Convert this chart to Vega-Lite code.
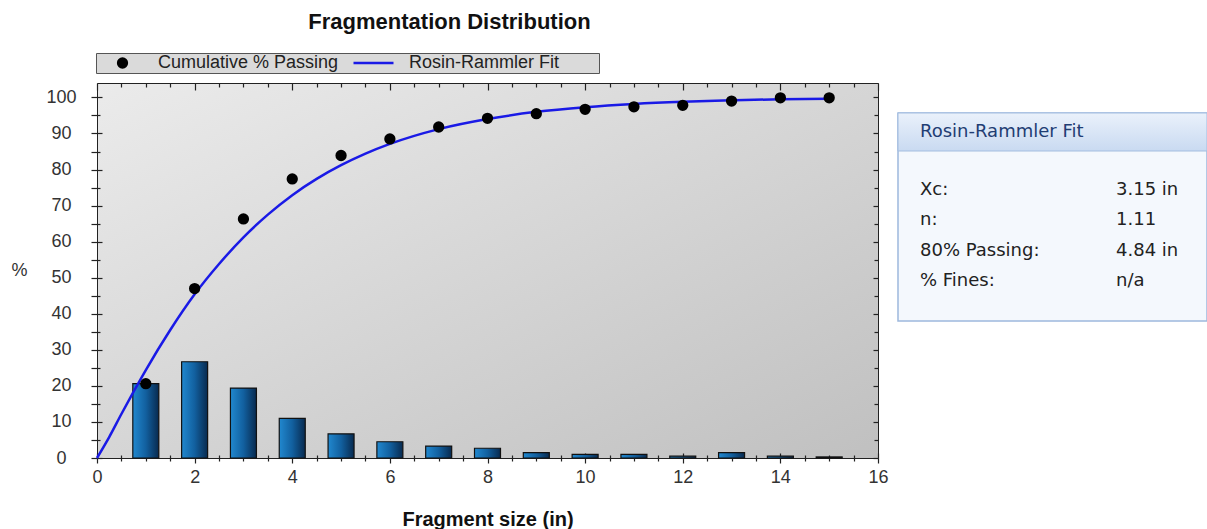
{
  "$schema": "https://vega.github.io/schema/vega-lite/v6.json",
  "padding": {"left": 10, "top": 10, "right": 0, "bottom": 0},
  "background": "white",
  "spacing": 7,
  "config": {"font": "Liberation Sans", "view": {"stroke": null}},
  "datasets": {
    "bars": [
      {"size": 1, "pct": 20.6}, {"size": 2, "pct": 26.7}, {"size": 3, "pct": 19.4}, {"size": 4, "pct": 11.0},
      {"size": 5, "pct": 6.7}, {"size": 6, "pct": 4.5}, {"size": 7, "pct": 3.3}, {"size": 8, "pct": 2.7},
      {"size": 9, "pct": 1.5}, {"size": 10, "pct": 1.0}, {"size": 11, "pct": 1.0}, {"size": 12, "pct": 0.5},
      {"size": 13, "pct": 1.5}, {"size": 14, "pct": 0.5}, {"size": 15, "pct": 0.3}
    ],
    "cumulative": [
      {"size": 1, "pct": 20.6}, {"size": 2, "pct": 47.0}, {"size": 3, "pct": 66.3}, {"size": 4, "pct": 77.4},
      {"size": 5, "pct": 83.9}, {"size": 6, "pct": 88.5}, {"size": 7, "pct": 91.8}, {"size": 8, "pct": 94.2},
      {"size": 9, "pct": 95.5}, {"size": 10, "pct": 96.7}, {"size": 11, "pct": 97.4}, {"size": 12, "pct": 97.8},
      {"size": 13, "pct": 99.0}, {"size": 14, "pct": 99.9}, {"size": 15, "pct": 99.9}
    ],
    "fit": [
      {"size": 0, "pct": 0}, {"size": 0.25, "pct": 5.8}, {"size": 0.5, "pct": 12.2}, {"size": 0.75, "pct": 18.4},
      {"size": 1, "pct": 24.4}, {"size": 1.5, "pct": 35.5}, {"size": 2, "pct": 45.4}, {"size": 2.5, "pct": 53.8},
      {"size": 3, "pct": 61.2}, {"size": 3.5, "pct": 67.5}, {"size": 4, "pct": 72.9}, {"size": 4.5, "pct": 77.4},
      {"size": 5, "pct": 81.2}, {"size": 5.5, "pct": 84.4}, {"size": 6, "pct": 87.1}, {"size": 7, "pct": 91.2},
      {"size": 8, "pct": 94.0}, {"size": 9, "pct": 96.0}, {"size": 10, "pct": 97.3}, {"size": 11, "pct": 98.2},
      {"size": 12, "pct": 98.8}, {"size": 13, "pct": 99.2}, {"size": 14, "pct": 99.5}, {"size": 15, "pct": 99.65}
    ],
    "panelHeader": [{"part": "header", "col": "name", "text": "Rosin-Rammler Fit"}],
    "panelRows": [
      {"row": "Xc:", "col": "name", "text": "Xc:"}, {"row": "Xc:", "col": "value", "text": "3.15 in"},
      {"row": "n:", "col": "name", "text": "n:"}, {"row": "n:", "col": "value", "text": "1.11"},
      {"row": "80% Passing:", "col": "name", "text": "80% Passing:"}, {"row": "80% Passing:", "col": "value", "text": "4.84 in"},
      {"row": "% Fines:", "col": "name", "text": "% Fines:"}, {"row": "% Fines:", "col": "value", "text": "n/a"}
    ],
    "empty": []
  },
  "hconcat": [
    {
      "width": 781,
      "height": 375,
      "title": {"text": "Fragmentation Distribution", "fontSize": 22, "fontWeight": "bold", "font": "Liberation Sans", "color": "#111111", "anchor": "middle", "frame": "bounds", "offset": 48},
      "view": {
        "fill": {"gradient": "linear", "x1": 0, "y1": 0, "x2": 1, "y2": 1, "stops": [{"offset": 0, "color": "#ebebeb"}, {"offset": 1, "color": "#c0c0c0"}]},
        "stroke": "#222222",
        "strokeWidth": 1
      },
      "resolve": {"axis": {"x": "independent", "y": "independent"}},
      "layer": [
        {
          "data": {"name": "bars"},
          "mark": {
            "type": "bar",
            "size": 26,
            "color": {"gradient": "linear", "x1": 0, "y1": 0, "x2": 1, "y2": 0, "stops": [{"offset": 0, "color": "#2188cf"}, {"offset": 0.5, "color": "#12609f"}, {"offset": 1, "color": "#082a4f"}]},
            "stroke": "#111111",
            "strokeWidth": 1.2
          },
          "encoding": {
            "x": {
              "field": "size", "type": "quantitative",
              "scale": {"domain": [0, 16], "nice": false, "zero": false, "padding": 0},
              "axis": {
                "orient": "bottom",
                "values": [0,0.5,1,1.5,2,2.5,3,3.5,4,4.5,5,5.5,6,6.5,7,7.5,8,8.5,9,9.5,10,10.5,11,11.5,12,12.5,13,13.5,14,14.5,15,15.5,16],
                "domain": false, "grid": false,
                "tickSize": {"condition": {"test": "datum.value % 2 === 0", "value": 5}, "value": 3},
                "tickColor": "#222222", "tickWidth": 1.2,
                "labelExpr": "datum.value % 2 === 0 ? format(datum.value, 'd') : ''",
                "labelPadding": 5, "labelFontSize": 18, "labelColor": "#333333", "labelFont": "Liberation Sans",
                "labelOverlap": false, "labelFlush": false,
                "title": "Fragment size (in)", "titleFontSize": 20, "titleFontWeight": "bold", "titleColor": "#111111", "titleFont": "Liberation Sans", "titlePadding": 23
              }
            },
            "y": {
              "field": "pct", "type": "quantitative",
              "scale": {"domain": [0, 104], "nice": false},
              "axis": {
                "orient": "left",
                "values": [0,5,10,15,20,25,30,35,40,45,50,55,60,65,70,75,80,85,90,95,100],
                "domain": false, "grid": false,
                "tickSize": 6, "tickColor": "#222222", "tickWidth": 1.2,
                "labelExpr": "datum.value % 10 === 0 ? datum.label : ''",
                "labelAlign": "center", "labelBaseline": "middle", "labelPadding": 30,
                "labelFontSize": 18, "labelColor": "#333333", "labelFont": "Liberation Sans",
                "labelOverlap": false, "labelFlush": false,
                "title": "%", "titleAngle": 0, "titleAlign": "right", "titleBaseline": "middle",
                "titlePadding": 19, "titleFontSize": 18, "titleFontWeight": "normal", "titleColor": "#333333", "titleFont": "Liberation Sans"
              }
            }
          }
        },
        {
          "data": {"name": "fit"},
          "mark": {"type": "line", "interpolate": "monotone", "strokeWidth": 2.5},
          "encoding": {
            "x": {
              "field": "size", "type": "quantitative",
              "axis": {
                "orient": "top",
                "values": [0,0.5,1,1.5,2,2.5,3,3.5,4,4.5,5,5.5,6,6.5,7,7.5,8,8.5,9,9.5,10,10.5,11,11.5,12,12.5,13,13.5,14,14.5,15,15.5,16],
                "domain": false, "grid": false, "labels": false, "title": null,
                "tickSize": {"condition": {"test": "datum.value % 2 === 0", "value": -7}, "value": -4},
                "tickColor": "#222222", "tickWidth": 1.2
              }
            },
            "y": {
              "field": "pct", "type": "quantitative",
              "axis": {
                "orient": "right",
                "values": [0,5,10,15,20,25,30,35,40,45,50,55,60,65,70,75,80,85,90,95,100],
                "domain": false, "grid": false, "labels": false, "title": null,
                "tickSize": {"condition": {"test": "datum.value % 10 === 0", "value": -5}, "value": -4},
                "tickColor": "#222222", "tickWidth": 1.2
              }
            },
            "color": {
              "datum": "Rosin-Rammler Fit",
              "type": "nominal",
              "scale": {"domain": ["Cumulative % Passing", "Rosin-Rammler Fit"], "range": ["#000000", "#1a1ae6"]},
              "legend": {
                "orient": "none", "legendX": -1, "legendY": -30, "direction": "horizontal",
                "title": " ", "titleOrient": "right", "titlePadding": 40, "titleFontSize": 8,
                "padding": 0, "clipHeight": 20,
                "labelFont": "Liberation Sans", "labelFontSize": 18, "labelColor": "#222222", "labelLimit": 400,
                "labelOffset": 14, "columnPadding": 8, "symbolOffset": 5,
                "symbolSize": 1600, "symbolStrokeWidth": 2.5, "symbolFillColor": "#000000",
                "strokeColor": "#555555", "fillColor": "#dadada"
              }
            }
          }
        },
        {
          "data": {"name": "cumulative"},
          "mark": {"type": "point", "filled": false, "fill": "#000000", "strokeWidth": 2.5, "size": 1600, "opacity": 1},
          "encoding": {
            "x": {
              "field": "size", "type": "quantitative",
              "axis": {
                "orient": "bottom",
                "values": [0,0.5,1,1.5,2,2.5,3,3.5,4,4.5,5,5.5,6,6.5,7,7.5,8,8.5,9,9.5,10,10.5,11,11.5,12,12.5,13,13.5,14,14.5,15,15.5,16],
                "domain": false, "grid": false, "labels": false, "title": null,
                "tickSize": {"condition": {"test": "datum.value % 2 === 0", "value": -5}, "value": -3},
                "tickColor": "#222222", "tickWidth": 1.2
              }
            },
            "y": {
              "field": "pct", "type": "quantitative",
              "axis": {
                "orient": "left",
                "values": [0,5,10,15,20,25,30,35,40,45,50,55,60,65,70,75,80,85,90,95,100],
                "domain": false, "grid": false, "labels": false, "title": null,
                "tickSize": {"condition": {"test": "datum.value % 10 === 0", "value": -5}, "value": -3},
                "tickColor": "#222222", "tickWidth": 1.2
              }
            },
            "color": {
              "datum": "Cumulative % Passing", "type": "nominal",
              "legend": {
                "orient": "none", "legendX": -1, "legendY": -30, "direction": "horizontal",
                "title": " ", "titleOrient": "right", "titlePadding": 40, "titleFontSize": 8,
                "padding": 0, "clipHeight": 20,
                "labelFont": "Liberation Sans", "labelFontSize": 18, "labelColor": "#222222", "labelLimit": 400,
                "labelOffset": 14, "columnPadding": 8, "symbolOffset": 5,
                "symbolSize": 1600, "symbolStrokeWidth": 2.5, "symbolFillColor": "#000000",
                "strokeColor": "#555555", "fillColor": "#dadada"
              }
            },
            "shape": {
              "datum": "Cumulative % Passing", "type": "nominal",
              "scale": {"domain": ["Cumulative % Passing", "Rosin-Rammler Fit"], "range": ["M-0.22,0A0.22,0.22 0 1,0 0.22,0A0.22,0.22 0 1,0 -0.22,0Z", "stroke"]},
              "legend": {
                "orient": "none", "legendX": -1, "legendY": -30, "direction": "horizontal",
                "title": " ", "titleOrient": "right", "titlePadding": 40, "titleFontSize": 8,
                "padding": 0, "clipHeight": 20,
                "labelFont": "Liberation Sans", "labelFontSize": 18, "labelColor": "#222222", "labelLimit": 400,
                "labelOffset": 14, "columnPadding": 8, "symbolOffset": 5,
                "symbolSize": 1600, "symbolStrokeWidth": 2.5, "symbolFillColor": "#000000",
                "strokeColor": "#555555", "fillColor": "#dadada"
              }
            }
          }
        }
      ]
    },
    {
      "spacing": 0,
      "vconcat": [
        {
          "width": 309,
          "height": 28,
          "data": {"name": "empty"},
          "mark": "point"
        },
        {
          "width": 309,
          "height": 208,
          "view": {"fill": "#f4f8fd", "stroke": "#9db8dd", "strokeWidth": 1.5},
          "resolve": {"scale": {"y": "independent"}},
          "layer": [
            {
              "data": {"name": "panelHeader"},
              "mark": {"type": "rect", "color": {"gradient": "linear", "x1": 0, "y1": 0, "x2": 0, "y2": 1, "stops": [{"offset": 0, "color": "#eaf1fb"}, {"offset": 1, "color": "#c9daf1"}]}, "stroke": "#a3bde0", "strokeWidth": 1},
              "encoding": {
                "y": {"field": "part", "type": "nominal", "scale": {"type": "band", "domain": ["header"], "range": [0, 38], "paddingInner": 0, "paddingOuter": 0}, "axis": null}
              }
            },
            {
              "data": {"name": "panelHeader"},
              "mark": {"type": "text", "align": "left", "baseline": "middle", "font": "DejaVu Sans", "fontSize": 18, "color": "#1f3d73"},
              "encoding": {
                "x": {"field": "col", "type": "nominal", "scale": {"type": "point", "domain": ["name", "value"], "range": [22, 218], "padding": 0}, "axis": null},
                "y": {"field": "part", "type": "nominal", "scale": {"type": "band", "domain": ["header"], "range": [0, 38], "paddingInner": 0, "paddingOuter": 0}, "axis": null},
                "text": {"field": "text"}
              }
            },
            {
              "data": {"name": "panelRows"},
              "mark": {"type": "text", "align": "left", "baseline": "middle", "font": "DejaVu Sans", "fontSize": 18, "color": "#222222"},
              "encoding": {
                "x": {"field": "col", "type": "nominal", "scale": {"type": "point", "domain": ["name", "value"], "range": [22, 218], "padding": 0}, "axis": null},
                "y": {"field": "row", "type": "nominal", "scale": {"type": "point", "domain": ["Xc:", "n:", "80% Passing:", "% Fines:"], "range": [77, 168], "padding": 0}, "axis": null},
                "text": {"field": "text"}
              }
            }
          ]
        }
      ]
    }
  ]
}
